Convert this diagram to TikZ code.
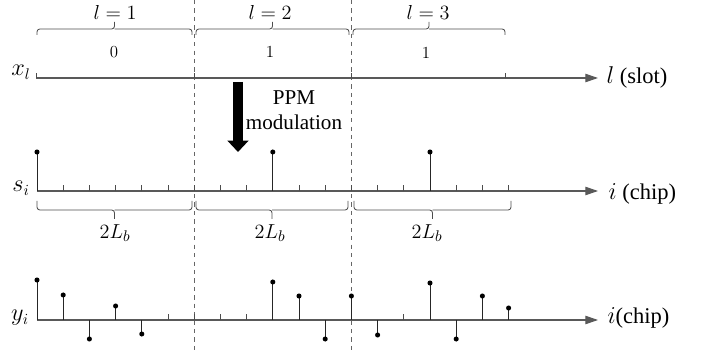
\documentclass[tikz,border=0pt]{standalone}
\usepackage{fontspec}
\setmainfont{Liberation Serif}
\usetikzlibrary{arrows.meta}

\begin{document}
\begin{tikzpicture}[x=0.025cm,y=-0.025cm,>={Triangle[length=9pt,width=6pt]},
  axis/.style={draw=black!65,line width=0.75pt,->},
  tick/.style={draw=black!70,line width=0.6pt},
  stem/.style={draw=black!85,line width=0.7pt},
  dot/.style={circle,fill=black,inner sep=0pt,minimum size=3.6pt},
  slotline/.style={draw=black!60,dashed,line width=0.6pt},
  slotbrace/.style={draw=black!70,line width=0.6pt,rounded corners=2pt},
  lbl/.style={inner sep=0pt,font=\fontsize{16}{19}\selectfont},
  mathlbl/.style={inner sep=0pt,font=\fontsize{15}{17}\selectfont}]
\useasboundingbox (0,0) rectangle (705,354);
\def\dx{26.2}
% slot boundaries
\draw[slotline] (194.2,0) -- (194.2,352);
\draw[slotline] (351.4,0) -- (351.4,352);
% x_l axis
\node[mathlbl,font=\fontsize{16}{18}\selectfont] (xl) at (21,72) {$x_l$};
\draw[axis] (36,78) -- (598,78) node[lbl,anchor=base west] (slot) at (606,84) {{\fontsize{18}{20}\selectfont$l$} (slot)};
\foreach \x in {36,194.2,351.4,505} \draw[tick] (\x,78) -- (\x,73);
\foreach \a/\b in {37/192,196/349,353/505}
  \draw[slotbrace] (\a,35) -- (\a,29) -- ({(\a+\b)/2},29) -- ({(\a+\b)/2},22)
                   ({(\a+\b)/2},29) -- (\b,29) -- (\b,35);
\node[mathlbl] (l1) at (115,12) {$l=1$};
\node[mathlbl] (l2) at (270,12) {$l=2$};
\node[mathlbl] (l3) at (428,12) {$l=3$};
\node[mathlbl,font=\fontsize{12}{14}\selectfont] (b1) at (114,52) {$0$};
\node[mathlbl,font=\fontsize{12}{14}\selectfont] (b2) at (270,52) {$1$};
\node[mathlbl,font=\fontsize{12}{14}\selectfont] (b3) at (426,53) {$1$};
% PPM modulation
\draw[line width=7.6pt,-{Triangle[length=8pt,width=14.5pt]}] (238,82) -- (238,152);
\node[lbl,align=center,font=\fontsize{15}{17.5}\selectfont] (ppm) at (294,110) {PPM\\modulation};
% s_i axis
\node[mathlbl,font=\fontsize{16}{18}\selectfont] (si) at (21,188) {$s_i$};
\draw[axis] (37,191) -- (598,191) node[lbl,anchor=base west] (chip1) at (608,200) {{\fontsize{18}{20}\selectfont$i$} (chip)};
\foreach \i in {1,...,8,10,11,12,13,14,16,17,18} \draw[tick] (37+\i*\dx,191) -- ++(0,-6);
\foreach \i in {0,9,15} \draw[stem] (37+\i*\dx,191) -- ++(0,-39) node[dot] (s\i) {};
\foreach \a/\b in {37/192,196/348,354/511}
  \draw[slotbrace] (\a,201) -- (\a,210) -- ({(\a+\b)/2},210) -- ({(\a+\b)/2},219)
                   ({(\a+\b)/2},210) -- (\b,210) -- (\b,201);
\node[mathlbl] (L1) at (115,233) {$2L_b$};
\node[mathlbl] (L2) at (270,233) {$2L_b$};
\node[mathlbl] (L3) at (427,233) {$2L_b$};
% y_i axis
\node[mathlbl,font=\fontsize{16}{18}\selectfont] (yi) at (20,318) {$y_i$};
\draw[axis] (37,320) -- (598,320) node[lbl,anchor=base west] (chip2) at (607,324) {{\fontsize{18}{20}\selectfont$i$}(chip)};
\foreach \i in {5,6,7,8,14} \draw[tick] (37+\i*\dx,320) -- ++(0,-6);
\foreach \i/\h in {0/40,1/25,2/-19,3/14,4/-14,9/38,10/24,11/-19,12/24,13/-15,15/37,16/-19,17/24,18/12}
  \draw[stem] (37+\i*\dx,320) -- ++(0,-\h) node[dot] (y\i) {};
\end{tikzpicture}
\end{document}
